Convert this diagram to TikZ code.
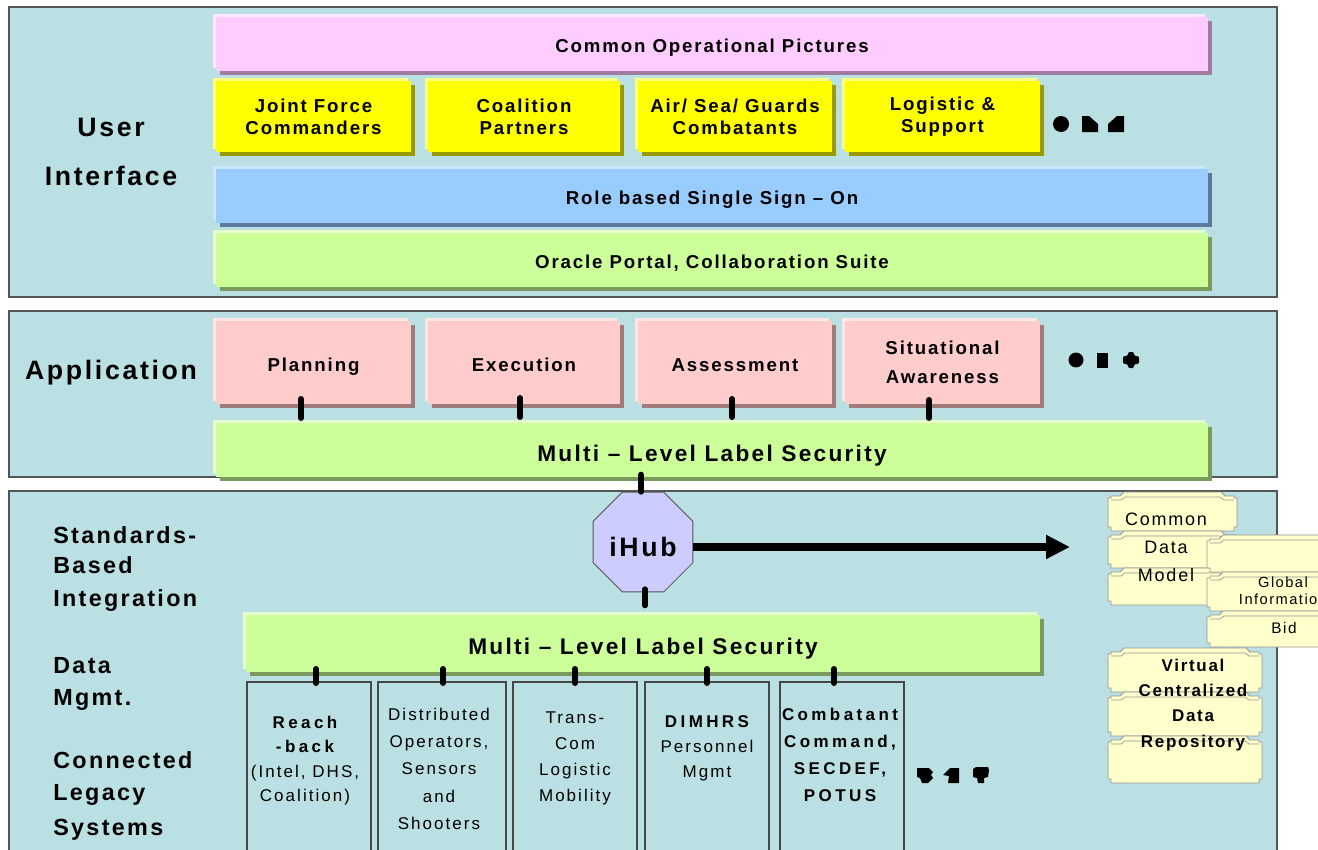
\documentclass[tikz,border=0pt]{standalone}
\usepackage{fontspec}
\setmainfont{Liberation Sans}[LetterSpace=10]
\usetikzlibrary{calc,shapes.geometric,arrows.meta}

% palette
\definecolor{panelbg}{RGB}{186,224,227}
\definecolor{panelline}{RGB}{85,85,85}
\definecolor{cpink}{RGB}{255,204,255}
\definecolor{cpinkhi}{RGB}{255,232,255}
\definecolor{cpinksh}{RGB}{160,123,160}
\definecolor{cyel}{RGB}{255,255,0}
\definecolor{cyelhi}{RGB}{255,255,128}
\definecolor{cyelsh}{RGB}{153,153,0}
\definecolor{cblue}{RGB}{153,204,255}
\definecolor{cbluehi}{RGB}{204,230,255}
\definecolor{cbluesh}{RGB}{92,122,153}
\definecolor{cgreen}{RGB}{204,255,153}
\definecolor{cgreenhi}{RGB}{230,255,204}
\definecolor{cgreensh}{RGB}{122,153,92}
\definecolor{csalmon}{RGB}{255,204,204}
\definecolor{csalmonhi}{RGB}{255,230,230}
\definecolor{csalmonsh}{RGB}{159,123,123}
\definecolor{chub}{RGB}{204,204,255}
\definecolor{cdb}{RGB}{255,255,204}
\definecolor{cdbline}{RGB}{150,150,150}
\definecolor{clegacy}{RGB}{70,70,70}

% box given by outer corners (L,T)-(R,B) in pixel units; body is inset by the highlight
\newcommand\layerbox[7]{%
  \node[#2, minimum width={(#5-#3-3)*0.75pt}, minimum height={(#6-#4-3)*0.75pt}]
    (#1) at ({(#3+3+#5)/2},{(#4+3+#6)/2}) {#7};}
\newcommand\frameat[6]{%
  \node[#2, minimum width={(#5-#3)*0.75pt}, minimum height={(#6-#4)*0.75pt}]
    (#1) at ({(#3+#5)/2},{(#4+#6)/2}) {};}
% one sheet of a stacked data store
\newcommand\dbpiece[4]{%
  \filldraw[dbsheet] (#1,#4-4) -- (#1,#2+6) -- (#1+3,#2+6) -- (#1+3,#2+4) -- (#1+12,#2+4)
    -- (#1+16,#2) -- (#3-16,#2) -- (#3-12,#2+4) -- (#3-3,#2+4) -- (#3-3,#2+6) -- (#3,#2+6)
    -- (#3,#4-4) -- (#3-3,#4-4) -- (#3-3,#4) -- (#1+3,#4) -- (#1+3,#4-4) -- cycle;
  \draw[dbrim] (#1+3,#2+8) -- (#1+13,#2+8) -- (#1+17,#2+5) -- (#3-17,#2+5) -- (#3-13,#2+8) -- (#3-3,#2+8);}
\newcommand\legb[1]{{\bfseries\addfontfeature{LetterSpace=20}#1}}

\begin{document}
\begin{tikzpicture}[x=0.75pt,y=-0.75pt,
  panel/.style={draw=panelline, line width=0.9pt, fill=panelbg, inner sep=0, outer sep=0},
  raised/.style n args={3}{fill=#1, inner sep=0, outer sep=0, align=center,
     preaction={fill=#3, transform canvas={shift={(3pt,-3pt)}}},
     preaction={fill=#2, transform canvas={shift={(-2.25pt,2.25pt)}}}},
  pinkbox/.style={raised={cpink}{cpinkhi}{cpinksh}},
  yellowbox/.style={raised={cyel}{cyelhi}{cyelsh}},
  bluebox/.style={raised={cblue}{cbluehi}{cbluesh}},
  greenbox/.style={raised={cgreen}{cgreenhi}{cgreensh}},
  salmonbox/.style={raised={csalmon}{csalmonhi}{csalmonsh}},
  boxtext/.style={font=\fontsize{14}{16.5}\selectfont\bfseries},
  oneline/.style={text depth=0pt, text height=13pt},
  mlstext/.style={font=\fontsize{17}{20}\selectfont\bfseries, text depth=0pt, text height=16.5pt},
  sidelabel/.style={font=\fontsize{20}{24}\selectfont\bfseries, inner sep=0, anchor=base},
  layerlabel/.style={font=\fontsize{17.5}{21}\selectfont\bfseries, inner sep=0, anchor=base west},
  bar/.style={line width=4.5pt, line cap=round},
  legacy/.style={draw=clegacy, line width=0.8pt, inner sep=0, outer sep=0},
  legtext/.style={inner sep=0, anchor=north, align=center,
     font=\fontsize{12.75}{19}\selectfont\addfontfeature{LetterSpace=12}},
  hub/.style={regular polygon, regular polygon sides=8, minimum size=81pt, inner sep=0,
     fill=chub, draw=panelline, line width=0.6pt,
     font=\fontsize{20}{24}\selectfont\bfseries, text height=21.5pt, text depth=0pt},
  bigarrow/.style={line width=6pt, -{Triangle[length=18pt,width=17pt]}},
  dbsheet/.style={fill=cdb, draw=cdbline, line width=0.6pt},
  dbrim/.style={draw=cdbline, line width=0.5pt},
  dbtext/.style={inner sep=0, align=center}
]
\useasboundingbox (0,0) rectangle (1318,850);
\fill[white] (0,0) rectangle (1318,850);

% ---------- layer frames ----------
\frameat{uipanel}{panel}{9}{7}{1277}{297}
\frameat{apppanel}{panel}{9}{311}{1277}{477}
\frameat{intpanel}{panel}{9}{491}{1277}{880}

% ---------- user interface layer ----------
\node[sidelabel] (lbluser) at (111,136) {User};
\node[sidelabel] (lblinterface) at (111,185) {Interface};

\layerbox{cop}{pinkbox,boxtext,oneline}{213}{14}{1208}{71}{Common Operational Pictures}
\layerbox{jfc}{yellowbox,boxtext}{213}{78}{411}{152}{Joint Force\\Commanders}
\layerbox{coal}{yellowbox,boxtext}{425}{78}{620}{152}{Coalition\\Partners}
\layerbox{air}{yellowbox,boxtext}{635}{78}{832}{152}{Air/ Sea/ Guards\\Combatants}
\layerbox{logi}{yellowbox,boxtext}{842}{78}{1040}{152}{Logistic \&\\Support}
\layerbox{sso}{bluebox,boxtext,oneline}{213}{166}{1208}{223}{Role based Single Sign – On}
\layerbox{portal}{greenbox,boxtext,oneline}{213}{230}{1208}{287}{Oracle Portal, Collaboration Suite}

% more user groups
\fill (1061,124) circle[radius=6pt];
\fill[shift={(1090,124)}] (-8,-8) -- (-1,-8) -- (8,0) -- (8,8) -- (-8,8) -- cycle;
\fill[shift={(1116,124)}] (8,-8) -- (1,-8) -- (-8,0) -- (-8,8) -- (8,8) -- cycle;

% ---------- application layer ----------
\node[sidelabel] (lblapp) at (111,379) {Application};

\layerbox{plan}{salmonbox,boxtext,oneline}{213}{318}{411}{404}{Planning}
\layerbox{exec}{salmonbox,boxtext,oneline}{425}{318}{620}{404}{Execution}
\layerbox{assess}{salmonbox,boxtext,oneline}{635}{318}{832}{404}{Assessment}
\layerbox{sitaw}{salmonbox,boxtext,font=\fontsize{14}{21.75}\selectfont\bfseries}{842}{318}{1040}{404}{Situational\\Awareness}
\layerbox{mlsapp}{greenbox,mlstext}{213}{420}{1208}{477}{Multi – Level Label Security}

\draw[bar] ($(plan.south)+(-12.5,-5)$) -- ($(plan.south)+(-12.5,14)$);
\draw[bar] ($(exec.south)+(-4,-6)$) -- ($(exec.south)+(-4,13)$);
\draw[bar] ($(assess.south)+(-3,-5)$) -- ($(assess.south)+(-3,13)$);
\draw[bar] ($(sitaw.south)+(-13.5,-4)$) -- ($(sitaw.south)+(-13.5,14)$);

% more applications
\fill (1076,360) circle[radius=5.6pt];
\fill (1097,352.5) rectangle (1108,367.5);
\fill[shift={(1131,360)}, rounded corners=1.5pt] (-3,-8) -- (3,-8) -- (3,-4) -- (8,-4) -- (8,4)
   -- (3,4) -- (3,8) -- (-3,8) -- (-3,4) -- (-8,4) -- (-8,-4) -- (-3,-4) -- cycle;

% ---------- integration / data / legacy layer ----------
\node[layerlabel] (lblstd) at (53,543) {Standards-};
\node[layerlabel] (lblbased) at (53,573) {Based};
\node[layerlabel] (lblinteg) at (53,606) {Integration};
\node[layerlabel] (lbldata) at (53,673) {Data};
\node[layerlabel] (lblmgmt) at (53,705) {Mgmt.};
\node[layerlabel] (lblconn) at (53,768) {Connected};
\node[layerlabel] (lbllegacy) at (53,800) {Legacy};
\node[layerlabel] (lblsys) at (53,835) {Systems};

\node[hub] (ihub) at (643,542) {iHub};
\coordinate (dbtarget) at (1070,547);
\draw[bar] ($(ihub.north)+(-2,-17)$) -- ($(ihub.north)+(-2,0)$);
\draw[bigarrow] (ihub.east |- dbtarget) -- (dbtarget);

\layerbox{mlsdata}{greenbox,mlstext}{243}{612}{1040}{672}{Multi – Level Label Security}
\draw[bar] ($(ihub.south)+(2,-3)$) -- ($(ihub.south)+(2,13)$);

\frameat{leg1}{legacy}{247}{682}{371}{880}
\frameat{leg2}{legacy}{378}{682}{506}{880}
\frameat{leg3}{legacy}{513}{682}{637}{880}
\frameat{leg4}{legacy}{645}{682}{769}{880}
\frameat{leg5}{legacy}{780}{682}{904}{880}

\foreach \b/\dx in {leg1/7, leg2/1, leg3/0, leg4/0, leg5/-8}
  \draw[bar] ($(\b.north)+(\dx,-13)$) -- ($(\b.north)+(\dx,1)$);

\node[legtext, font=\fontsize{12.75}{18.3}\selectfont\addfontfeature{LetterSpace=12}] (leg1txt) at (305,716)
  {\legb{Reach}\\\legb{-back}\\(Intel, DHS,\\Coalition)};
\node[legtext, font=\fontsize{12.75}{20.4}\selectfont\addfontfeature{LetterSpace=12}] (leg2txt) at (439,708)
  {Distributed\\Operators,\\Sensors\\and\\Shooters};
\node[legtext, font=\fontsize{12.75}{19.3}\selectfont\addfontfeature{LetterSpace=12}] (leg3txt) at (575,712)
  {Trans-\\Com\\Logistic\\Mobility};
\node[legtext, font=\fontsize{12.75}{18.75}\selectfont\addfontfeature{LetterSpace=12}] (leg4txt) at (707,715)
  {\legb{DIMHRS}\\Personnel\\Mgmt};
\node[legtext, font=\fontsize{12.75}{20.25}\selectfont\addfontfeature{LetterSpace=12}] (leg5txt) at (840,708)
  {\legb{Combatant}\\\legb{Command,}\\\legb{SECDEF,}\\\legb{POTUS}};

% more legacy systems
\fill[shift={(925,775)}] (-8,-7) -- (4,-7) -- (8,-3) -- (6,0) -- (8,3) -- (3,8) -- (-3,8) -- (-5,3) -- (-8,2) -- cycle;
\fill[shift={(951,775)}] (8,-7) -- (-1,-7) -- (-8,0) -- (-2,1) -- (-3,8) -- (8,8) -- cycle;
\fill[shift={(981,775)}] (-8,-6) -- (-5,-8) -- (7,-8) -- (8,-5) -- (7,2) -- (3,3) -- (3,8) -- (-3,8) -- (-4,3) -- (-8,2) -- cycle;

% ---------- data stores ----------
\dbpiece{1108}{492}{1237}{531}
\dbpiece{1108}{531}{1237}{568}
\dbpiece{1108}{568}{1237}{605}
\node[dbtext, anchor=north, font=\fontsize{13.5}{21}\selectfont] (dbcdm) at (1166,513) {Common\\Data\\Model};

\dbpiece{1207}{535}{1345}{572}
\dbpiece{1207}{572}{1345}{611}
\dbpiece{1207}{611}{1345}{647}
\node[dbtext, anchor=north, font=\fontsize{11}{12.75}\selectfont] (dbgi) at (1283,577) {Global\\Information};
\node[dbtext, font=\fontsize{11.5}{13}\selectfont, text depth=0pt] (dbbid) at (1284,628) {Bid};

\dbpiece{1108}{648}{1262}{692}
\dbpiece{1108}{692}{1262}{736}
\dbpiece{1108}{736}{1262}{783}
\node[dbtext, anchor=north, font=\fontsize{12.75}{18.9}\selectfont\bfseries] (dbvcdr) at (1193,659)
  {Virtual\\Centralized\\Data\\Repository};
\end{tikzpicture}
\end{document}
